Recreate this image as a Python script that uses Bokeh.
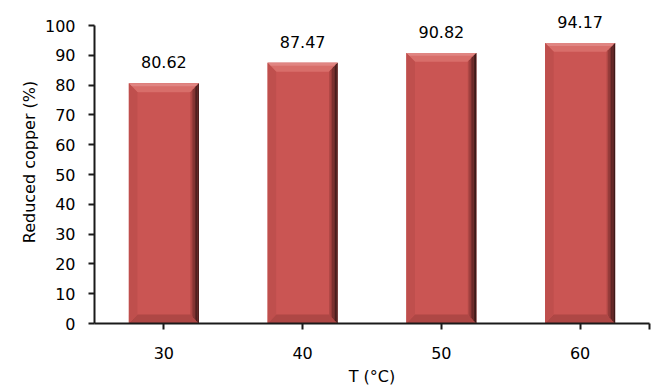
from bokeh.plotting import figure
from bokeh.models import ColumnDataSource, FixedTicker, Range1d, LabelSet
from bokeh.core.properties import value
from bokeh.embed import file_html
from bokeh.resources import INLINE

# ---- data ----
temps = [30, 40, 50, 60]
reduced_copper = [80.62, 87.47, 90.82, 94.17]
value_labels = ["80.62", "87.47", "90.82", "94.17"]
y_ticks = [0, 10, 20, 30, 40, 50, 60, 70, 80, 90, 100]

FONT = "DejaVu Sans"
FACE = "#CA5553"
BAR_W = 5.05      # data units (x)
BX = 0.62         # bevel width, x units
BY = 3.0          # bevel height, y units

p = figure(width=655, height=388, output_backend="svg", toolbar_location=None,
           x_range=Range1d(25, 65), y_range=Range1d(0, 108.4),
           min_border_left=94, min_border_right=6, min_border_top=0, min_border_bottom=64)
p.outline_line_color = None
p.xgrid.grid_line_color = None
p.ygrid.grid_line_color = None
p.background_fill_color = "white"
p.border_fill_color = "white"

# main faces
p.quad(left=[t - BAR_W / 2 for t in temps], right=[t + BAR_W / 2 for t in temps],
       bottom=[0] * len(temps), top=reduced_copper, fill_color=FACE, line_color=None)

# bevels
top_xs, top_ys, top2_xs, top2_ys, bot_xs, bot_ys, left_xs, left_ys = [], [], [], [], [], [], [], []
for t, v in zip(temps, reduced_copper):
    l, r = t - BAR_W / 2, t + BAR_W / 2
    top_xs.append([l, r, r - BX, l + BX]); top_ys.append([v, v, v - BY, v - BY])
    top2_xs.append([l, r, r - BX / 3, l + BX / 3]); top2_ys.append([v, v, v - BY / 3, v - BY / 3])
    bot_xs.append([l, r, r - BX, l + BX]); bot_ys.append([0, 0, BY, BY])
    left_xs.append([l, l + BX, l + BX, l]); left_ys.append([v, v - BY, BY, 0])
p.patches(top_xs, top_ys, fill_color="#D86E6A", line_color=None)
p.patches(top2_xs, top2_ys, fill_color="#E08582", line_color=None)
p.patches(bot_xs, bot_ys, fill_color="#AE4745", line_color=None)
p.patches(left_xs, left_ys, fill_color="#BF4F4D", line_color=None)

# right bevel as gradient strips
shades = ["#B04846", "#963C3A", "#7A302F", "#602625", "#4A1E1D", "#3E1A19"]
n = len(shades)
for k, c in enumerate(shades):
    xs_k, ys_k = [], []
    for t, v in zip(temps, reduced_copper):
        r = t + BAR_W / 2
        a = k / n
        b = (k + 1) / n
        xa = r - BX + a * BX
        xb = r - BX + b * BX
        xs_k.append([xa, xb, xb, xa])
        ys_k.append([v - BY * (1 - a), v - BY * (1 - b), BY * (1 - b), BY * (1 - a)])
    p.patches(xs_k, ys_k, fill_color=c, line_color=None)

# value labels
src = ColumnDataSource(dict(x=temps, y=reduced_copper, txt=value_labels))
p.add_layout(LabelSet(x="x", y="y", text="txt", source=src, text_align="center",
                      text_baseline="alphabetic", y_offset=15, text_font=value(FONT),
                      text_font_size=value("16px"), text_color="black"))

# axes
p.xaxis.ticker = FixedTicker(ticks=temps + [65])
p.xaxis.major_label_overrides = {65: ""}
p.yaxis.ticker = FixedTicker(ticks=y_ticks)
p.yaxis.bounds = (0, 100)
for ax in (p.xaxis, p.yaxis):
    ax.axis_line_color = "#1a1a1a"
    ax.axis_line_width = 2
    ax.major_tick_line_color = "#1a1a1a"
    ax.major_tick_line_width = 2
    ax.major_tick_out = 6
    ax.major_tick_in = 0
    ax.minor_tick_line_color = None
    ax.major_label_text_font = FONT
    ax.major_label_text_font_size = "16px"
    ax.major_label_text_color = "black"
    ax.axis_label_text_font = FONT
    ax.axis_label_text_font_size = "16px"
    ax.axis_label_text_font_style = "normal"
    ax.axis_label_text_color = "black"
p.xaxis.axis_label = "T (°C)"
p.yaxis.axis_label = "Reduced copper (%)"
p.xaxis.major_label_standoff = 17
p.yaxis.major_label_standoff = 13
p.xaxis.axis_label_standoff = 5
p.yaxis.axis_label_standoff = 3

open("out.html", "w").write(file_html(p, INLINE))
